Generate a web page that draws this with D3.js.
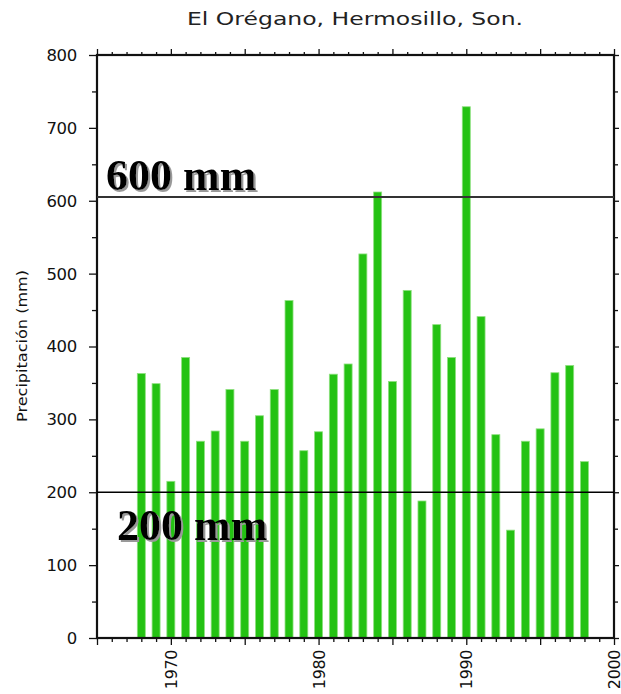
<!DOCTYPE html>
<html>
<head>
<meta charset="utf-8">
<script src="https://cdn.jsdelivr.net/npm/d3@7"></script>
<style>
  body { margin: 0; background: #fff; }
  svg { display: block; }
</style>
</head>
<body>
<div id="chart"></div>
<script>
// yearly precipitation, El Orégano
var years = [1968, 1969, 1970, 1971, 1972, 1973, 1974, 1975, 1976, 1977,
             1978, 1979, 1980, 1981, 1982, 1983, 1984, 1985, 1986, 1987,
             1988, 1989, 1990, 1991, 1992, 1993, 1994, 1995, 1996, 1997, 1998];
var precip = [363, 349, 215, 385, 270, 284, 341, 270, 305, 341,
              463, 257, 283, 362, 376, 527, 612, 352, 477, 188,
              430, 385, 729, 441, 279, 148, 270, 287, 364, 374, 242];
var refLines = [605, 200];
var refLabels = ["600 mm", "200 mm"];
var xTickLabels = [1970, 1980, 1990, 2000];
var yTickLabels = [0, 100, 200, 300, 400, 500, 600, 700, 800];

var width = 621, height = 694;
var margin = {top: 55, right: 7, bottom: 56, left: 97};

var svg = d3.select("#chart").append("svg")
    .attr("width", width).attr("height", height);

// soft grey drop shadow for the big labels
var shadow = svg.append("defs").append("filter")
    .attr("id", "shadow")
    .attr("x", "-5%").attr("y", "-10%")
    .attr("width", "115%").attr("height", "130%");
shadow.append("feDropShadow")
    .attr("dx", 2).attr("dy", 2)
    .attr("stdDeviation", 0.6)
    .attr("flood-color", "#999")
    .attr("flood-opacity", 1);

var x = d3.scaleLinear().domain([1965, 2000]).range([margin.left, width - margin.right]);
var y = d3.scaleLinear().domain([0, 800]).range([height - margin.bottom, margin.top]);

var font = "'DejaVu Sans', sans-serif";

// bars
svg.append("g")
    .selectAll("rect")
    .data(years)
    .enter().append("rect")
    .attr("x", function(d) { return x(d) - 4; })
    .attr("width", 8)
    .attr("y", function(d, i) { return y(precip[i]); })
    .attr("height", function(d, i) { return y(0) - y(precip[i]); })
    .attr("fill", "#24c213")
    .attr("stroke", "#8ee07f")
    .attr("stroke-width", 0.8);

// axes: minor every year / 50 mm, longer ticks every 5 years / 100 mm
var yearsAll = d3.range(1965, 2001);
var major5 = yearsAll.filter(function(d) { return d % 5 === 0; });
var minor1 = yearsAll.filter(function(d) { return d % 5 !== 0; });
var yMajor = d3.range(0, 801, 100);
var yMinor = d3.range(50, 800, 100);

function tickGroup(axis, values, size) {
    var g = svg.append("g")
        .attr("transform", axis.t)
        .call(axis.fn(axis.scale).tickValues(values).tickSize(size).tickFormat(""));
    g.select(".domain").remove();
    g.selectAll("line").attr("stroke", "#111").attr("stroke-width", 1.3);
    return g;
}

var bottomT = "translate(0," + y(0) + ")";
var topT = "translate(0," + y(800) + ")";
var leftT = "translate(" + x(1965) + ",0)";
var rightT = "translate(" + x(2000) + ",0)";

tickGroup({t: bottomT, fn: d3.axisBottom, scale: x}, major5, 7);
tickGroup({t: bottomT, fn: d3.axisBottom, scale: x}, minor1, 4);
tickGroup({t: topT, fn: d3.axisTop, scale: x}, major5, 6);
tickGroup({t: topT, fn: d3.axisTop, scale: x}, minor1, 3);
tickGroup({t: leftT, fn: d3.axisLeft, scale: y}, yMajor, 8);
tickGroup({t: leftT, fn: d3.axisLeft, scale: y}, yMinor, 5);
tickGroup({t: rightT, fn: d3.axisRight, scale: y}, yMajor, 5);
tickGroup({t: rightT, fn: d3.axisRight, scale: y}, yMinor, 4);

// frame
svg.append("rect")
    .attr("x", x(1965)).attr("y", y(800))
    .attr("width", x(2000) - x(1965)).attr("height", y(0) - y(800))
    .attr("fill", "none").attr("stroke", "#111").attr("stroke-width", 2.2);

// y tick labels
svg.append("g").selectAll("text")
    .data(yTickLabels)
    .enter().append("text")
    .attr("x", 77)
    .attr("y", function(d) { return y(d); })
    .attr("dy", "0.36em")
    .attr("text-anchor", "end")
    .attr("font-family", font)
    .attr("font-size", 16.5)
    .attr("letter-spacing", -0.3)
    .attr("fill", "#111")
    .text(function(d) { return d; });

// x tick labels (rotated)
svg.append("g").selectAll("text")
    .data(xTickLabels)
    .enter().append("text")
    .attr("transform", function(d) { return "translate(" + (x(d) + 6) + ",650) rotate(-90)"; })
    .attr("text-anchor", "end")
    .attr("font-family", font)
    .attr("font-size", 16)
    .attr("letter-spacing", -0.4)
    .attr("fill", "#111")
    .text(function(d) { return d; });

// y axis title
svg.append("text")
    .attr("transform", "translate(27," + 346 + ") rotate(-90)")
    .attr("text-anchor", "middle")
    .attr("font-family", font)
    .attr("font-size", 14)
    .attr("textLength", 152)
    .attr("lengthAdjust", "spacingAndGlyphs")
    .attr("fill", "#111")
    .text("Precipitación (mm)");

// chart title
svg.append("text")
    .attr("x", 355).attr("y", 25)
    .attr("text-anchor", "middle")
    .attr("font-family", font)
    .attr("font-size", 18)
    .attr("textLength", 336)
    .attr("lengthAdjust", "spacingAndGlyphs")
    .attr("fill", "#222")
    .text("El Orégano, Hermosillo, Son.");

// reference lines
svg.append("g").selectAll("line")
    .data(refLines)
    .enter().append("line")
    .attr("x1", x(1965)).attr("x2", x(2000))
    .attr("y1", function(d) { return y(d); })
    .attr("y2", function(d) { return y(d); })
    .attr("stroke", function(d, i) { return i === 0 ? "#333" : "#000"; })
    .attr("stroke-width", function(d, i) { return i === 0 ? 2 : 1.4; });

// reference labels
var labelPos = [{x: 106, y: 190}, {x: 117, y: 540}];
svg.append("g").selectAll("text")
    .data(refLabels)
    .enter().append("text")
    .attr("x", function(d, i) { return labelPos[i].x; })
    .attr("y", function(d, i) { return labelPos[i].y; })
    .attr("font-family", "'Liberation Serif', 'Times New Roman', serif")
    .attr("font-weight", "bold")
    .attr("font-size", 44)
    .attr("fill", "#000")
    .attr("filter", "url(#shadow)")
    .text(function(d) { return d; });
</script>
</body>
</html>
